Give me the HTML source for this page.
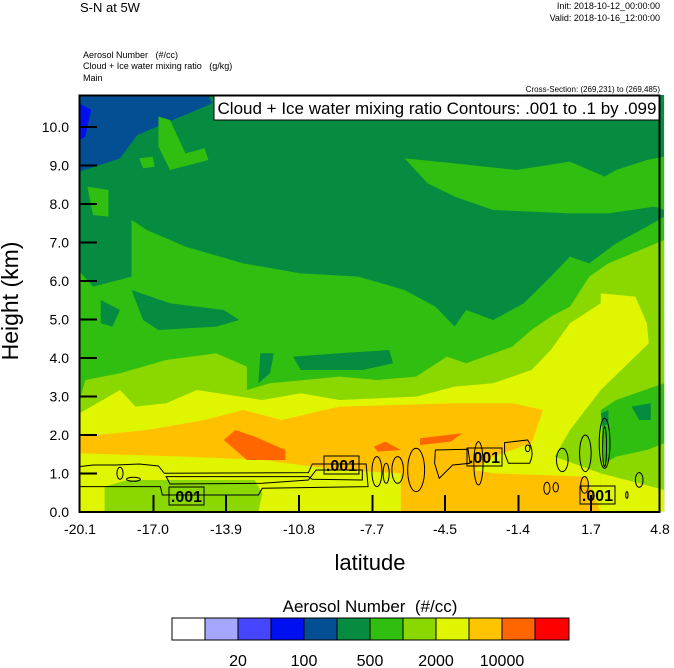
<!DOCTYPE html>
<html><head><style>
body{margin:0;background:#fff;width:674px;height:668px;overflow:hidden}
svg{display:block;font-family:"Liberation Sans",sans-serif}
</style></head><body>
<svg width="674" height="668" viewBox="0 0 674 668" xmlns="http://www.w3.org/2000/svg">
<text x="80" y="12" font-size="13">S-N at 5W</text>
<text x="660" y="9" font-size="9" text-anchor="end">Init: 2018-10-12_00:00:00</text>
<text x="660" y="21" font-size="9" text-anchor="end">Valid: 2018-10-16_12:00:00</text>
<text x="83" y="58" font-size="9" xml:space="preserve">Aerosol Number   (#/cc)</text>
<text x="83" y="69" font-size="9" xml:space="preserve">Cloud + Ice water mixing ratio   (g/kg)</text>
<text x="83" y="81" font-size="9">Main</text>
<text x="660" y="92" font-size="8" text-anchor="end">Cross-Section: (269,231) to (269,485)</text>
<defs><clipPath id="c"><rect x="25" y="15" width="1520" height="1250"/></clipPath></defs>
<g transform="translate(70,90) scale(0.3846,0.3333)" clip-path="url(#c)">
<rect x="25" y="15" width="1520" height="1250" fill="#058c41"/>
<polygon fill="#044f94" points="25,15 360,15 370,40 175,135 130,205 25,245"/>
<polygon fill="#0010f0" points="25,40 55,60 40,140 25,150"/>
<polygon fill="#30be10" points="230,80 260,90 300,190 350,175 360,210 260,240 230,170"/>
<polygon fill="#30be10" points="180,205 215,200 220,230 190,235"/>
<polygon fill="#30be10" points="45,290 100,300 100,380 60,375"/>
<polygon fill="#30be10" points="870,205 1000,220 1160,240 1300,215 1390,260 1420,240 1500,210 1545,200 1545,360 1520,350 1400,370 1300,370 1100,360 1000,320 930,280"/>
<polygon fill="#30be10" points="25,545 60,590 160,560 160,390 200,420 300,470 450,520 600,550 750,560 870,600 950,650 1000,710 1030,660 1100,690 1180,640 1250,560 1300,500 1350,520 1420,460 1500,410 1545,380 1545,1265 25,1265"/>
<polygon fill="#058c41" points="80,630 130,660 110,710 80,700"/>
<polygon fill="#058c41" points="160,600 260,640 400,660 440,690 380,710 230,720 190,690"/>
<polygon fill="#058c41" points="580,800 700,790 830,780 840,820 760,840 600,840"/>
<polygon fill="#058c41" points="495,790 530,790 520,850 490,880"/>
<polygon fill="#8ad800" points="25,930 40,870 130,850 250,810 380,790 460,830 460,900 520,880 700,860 800,870 900,860 980,800 1030,820 1150,770 1200,720 1250,680 1300,650 1350,560 1400,520 1545,450 1545,1265 25,1265"/>
<polygon fill="#e0f500" points="25,970 130,900 170,950 250,940 330,900 500,930 600,910 700,930 900,920 1000,890 1100,880 1200,840 1250,780 1300,700 1380,640 1380,610 1470,620 1500,700 1505,760 1420,880 1360,960 1300,1020 1260,1100 1380,1150 1380,1265 25,1265"/>
<polygon fill="#8ad800" points="1300,1020 1380,900 1505,760 1545,780 1545,1200 1450,1200 1380,1150 1300,1100"/>
<polygon fill="#30be10" points="1380,960 1420,930 1545,880 1545,1060 1500,1080 1420,1100 1390,1120"/>
<polygon fill="#058c41" points="1460,950 1510,940 1510,990 1480,990"/>
<polygon fill="#058c41" points="1380,970 1400,960 1400,1000 1385,1010"/>
<polygon fill="#e0f500" points="1380,1150 1545,1200 1545,1265 1380,1265"/>
<polygon fill="#ffc000" points="25,1040 200,1020 350,990 450,960 550,990 700,950 1000,940 1150,940 1230,960 1200,1060 1100,1100 1050,1140 1100,1150 1340,1160 1380,1265 860,1265 860,1150 700,1140 500,1110 300,1100 25,1090"/>
<polygon fill="#ff6600" points="400,1050 430,1020 480,1040 560,1080 560,1110 460,1110"/>
<polygon fill="#ff6600" points="910,1045 1020,1030 990,1055 910,1065"/>
<polygon fill="#ff6600" points="790,1070 820,1055 860,1080 800,1085"/>
<polygon fill="#8ad800" points="90,1190 150,1170 480,1170 500,1210 490,1265 90,1265"/>
<g fill="none" stroke="#000" stroke-width="1">
<path vector-effect="non-scaling-stroke" d="M25,1130 L60,1125 L120,1125 L180,1122 L230,1128 L245,1150 L620,1148 L630,1122 L770,1122 L775,1190 L500,1195 L490,1215 L240,1215 L235,1190 L25,1190"/>
<path vector-effect="non-scaling-stroke" d="M250,1160 L620,1160 L630,1168 L760,1170 L760,1140 L640,1140 L620,1170 L500,1180 L260,1182 Z"/>
<ellipse vector-effect="non-scaling-stroke" cx="130" cy="1150" rx="8" ry="18"/>
<ellipse vector-effect="non-scaling-stroke" cx="165" cy="1168" rx="18" ry="6"/>
<ellipse vector-effect="non-scaling-stroke" cx="798" cy="1145" rx="13" ry="45"/>
<ellipse vector-effect="non-scaling-stroke" cx="822" cy="1150" rx="8" ry="30"/>
<ellipse vector-effect="non-scaling-stroke" cx="852" cy="1140" rx="15" ry="40"/>
<ellipse vector-effect="non-scaling-stroke" cx="900" cy="1140" rx="22" ry="65"/>
<path vector-effect="non-scaling-stroke" d="M950,1080 L1035,1078 L1040,1120 L995,1125 L960,1165 L948,1120 Z"/>
<ellipse vector-effect="non-scaling-stroke" cx="1062" cy="1120" rx="12" ry="65"/>
<path vector-effect="non-scaling-stroke" d="M1130,1058 L1190,1050 Q1210,1085 1195,1120 L1140,1120 L1130,1090 Z"/>
<ellipse vector-effect="non-scaling-stroke" cx="1280" cy="1110" rx="15" ry="35"/>
<ellipse vector-effect="non-scaling-stroke" cx="1340" cy="1090" rx="15" ry="55"/>
<ellipse vector-effect="non-scaling-stroke" cx="1390" cy="1060" rx="14" ry="75"/>
<ellipse vector-effect="non-scaling-stroke" cx="1390" cy="1070" rx="5" ry="60"/>
<ellipse vector-effect="non-scaling-stroke" cx="1240" cy="1195" rx="8" ry="18"/>
<ellipse vector-effect="non-scaling-stroke" cx="1263" cy="1192" rx="7" ry="14"/>
<ellipse vector-effect="non-scaling-stroke" cx="1338" cy="1185" rx="10" ry="25"/>
<ellipse vector-effect="non-scaling-stroke" cx="1480" cy="1170" rx="10" ry="22"/>
<ellipse vector-effect="non-scaling-stroke" cx="1448" cy="1215" rx="3" ry="10"/>
<ellipse vector-effect="non-scaling-stroke" cx="1190" cy="1075" rx="6" ry="10"/>
</g>
</g>
<g font-size="16" font-weight="bold">
<rect x="169" y="487" width="35" height="18" fill="none" stroke="#000"/><text x="186.5" y="502" text-anchor="middle">.001</text>
<rect x="324" y="456" width="35" height="18" fill="none" stroke="#000"/><text x="341.5" y="471" text-anchor="middle">.001</text>
<rect x="467" y="448" width="35" height="18" fill="none" stroke="#000"/><text x="484.5" y="463" text-anchor="middle">.001</text>
<rect x="580" y="486" width="35" height="18" fill="none" stroke="#000"/><text x="597.5" y="501" text-anchor="middle">.001</text>
</g>
<rect x="214" y="96" width="446" height="24" fill="#fff" stroke="#000"/>
<text x="437" y="114" font-size="17" text-anchor="middle">Cloud + Ice water mixing ratio Contours: .001 to .1 by .099</text>
<rect x="79.5" y="95.5" width="580" height="416.5" fill="none" stroke="#000" stroke-width="2"/>
<g stroke="#000" stroke-width="2">
<line x1="79" y1="127" x2="97" y2="127"/><line x1="79" y1="165.5" x2="97" y2="165.5"/><line x1="79" y1="204" x2="97" y2="204"/><line x1="79" y1="242.5" x2="97" y2="242.5"/><line x1="79" y1="281" x2="97" y2="281"/><line x1="79" y1="319.5" x2="97" y2="319.5"/><line x1="79" y1="358" x2="97" y2="358"/><line x1="79" y1="396.5" x2="97" y2="396.5"/><line x1="79" y1="435" x2="97" y2="435"/><line x1="79" y1="473.5" x2="97" y2="473.5"/>
<line x1="153.5" y1="512" x2="153.5" y2="495"/><line x1="226" y1="512" x2="226" y2="495"/><line x1="299" y1="512" x2="299" y2="495"/><line x1="372.5" y1="512" x2="372.5" y2="495"/><line x1="445" y1="512" x2="445" y2="495"/><line x1="518.5" y1="512" x2="518.5" y2="495"/><line x1="591" y1="512" x2="591" y2="495"/>
</g>
<g font-size="14" text-anchor="end">
<text x="69" y="132">10.0</text><text x="69" y="170.5">9.0</text><text x="69" y="209">8.0</text><text x="69" y="247.5">7.0</text><text x="69" y="286">6.0</text><text x="69" y="324.5">5.0</text><text x="69" y="363">4.0</text><text x="69" y="401.5">3.0</text><text x="69" y="440">2.0</text><text x="69" y="478.5">1.0</text><text x="69" y="517">0.0</text>
</g>
<g font-size="14" text-anchor="middle">
<text x="80" y="534">-20.1</text><text x="153" y="534">-17.0</text><text x="226" y="534">-13.9</text><text x="299" y="534">-10.8</text><text x="372" y="534">-7.7</text><text x="445" y="534">-4.5</text><text x="518" y="534">-1.4</text><text x="591" y="534">1.7</text><text x="660" y="534">4.8</text>
</g>
<text x="370" y="570" font-size="22" text-anchor="middle">latitude</text>
<text transform="translate(18,301) rotate(-90)" font-size="23" text-anchor="middle">Height (km)</text>
<text x="370" y="612" font-size="17" text-anchor="middle" xml:space="preserve">Aerosol Number  (#/cc)</text>
<g stroke="#000" stroke-width="1">
<rect x="172" y="618" width="33" height="22" fill="#ffffff"/>
<rect x="205" y="618" width="33" height="22" fill="#a6a6ff"/>
<rect x="238" y="618" width="33" height="22" fill="#4646ff"/>
<rect x="271" y="618" width="33" height="22" fill="#000ff0"/>
<rect x="304" y="618" width="33" height="22" fill="#044f94"/>
<rect x="337" y="618" width="33" height="22" fill="#058c41"/>
<rect x="370" y="618" width="33" height="22" fill="#30be10"/>
<rect x="403" y="618" width="33" height="22" fill="#8ad800"/>
<rect x="436" y="618" width="33" height="22" fill="#e0f500"/>
<rect x="469" y="618" width="33" height="22" fill="#ffc400"/>
<rect x="502" y="618" width="33" height="22" fill="#ff6600"/>
<rect x="535" y="618" width="34" height="22" fill="#ff0000"/>
</g>
<g font-size="16" text-anchor="middle">
<text x="238" y="666">20</text><text x="304" y="666">100</text><text x="370" y="666">500</text><text x="436" y="666">2000</text><text x="502" y="666">10000</text>
</g>
</svg>
</body></html>
